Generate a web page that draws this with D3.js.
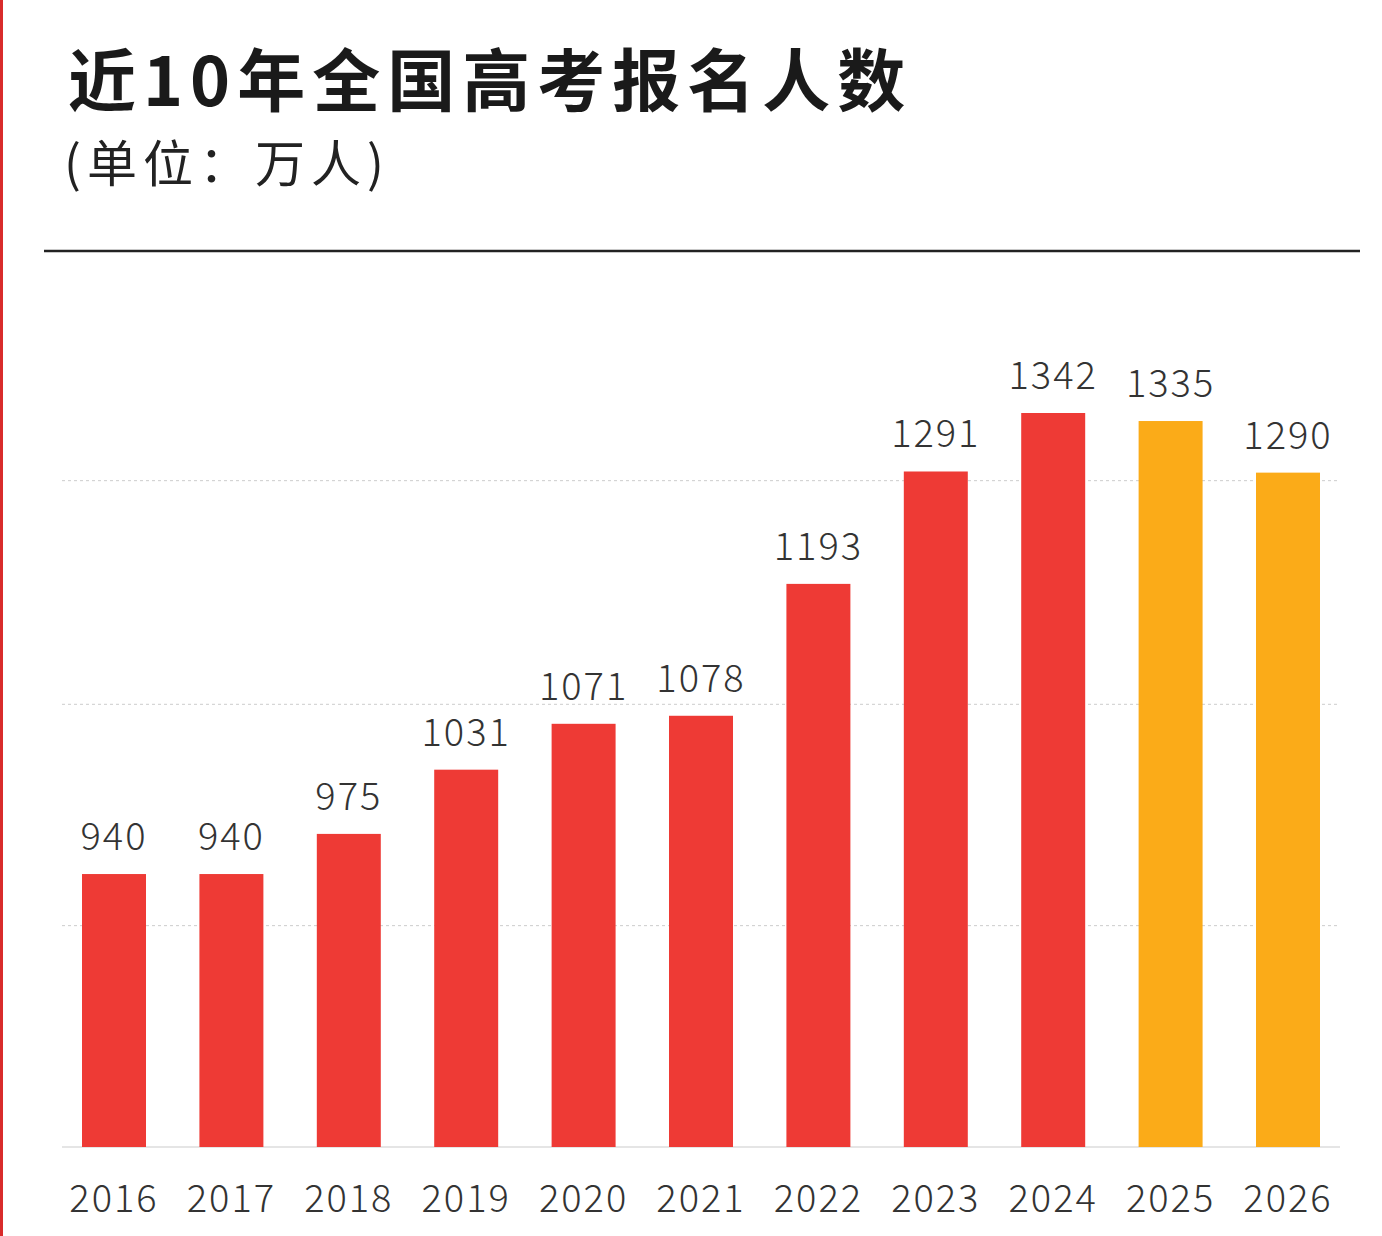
<!DOCTYPE html>
<html><head><meta charset="utf-8">
<script src="https://cdn.jsdelivr.net/npm/d3@7"></script>
<style>body{margin:0;background:#fff;} svg{display:block;}</style>
</head><body>
<svg id="chart" width="1382" height="1236"></svg>
<script>
// data
var years = ["2016","2017","2018","2019","2020","2021","2022","2023","2024","2025","2026"];
var values = [940, 940, 975, 1031, 1071, 1078, 1193, 1291, 1342, 1335, 1290];
var colors = ["#ee3a35","#ee3a35","#ee3a35","#ee3a35","#ee3a35","#ee3a35","#ee3a35","#ee3a35","#ee3a35","#fbab18","#fbab18"];
var gridValues = [895, 1088, 1283];

var svg = d3.select("#chart");
var font = "'Noto Sans CJK SC','Noto Sans',sans-serif";

// red edge on the left
svg.append("rect").attr("x",0).attr("y",0).attr("width",3).attr("height",1236).attr("fill","#d92b2b");

svg.append("text").attr("x",68).attr("y",106).text("近10年全国高考报名人数")
  .attr("font-family",font).attr("font-weight",700).attr("font-size",68)
  .attr("letter-spacing",7).attr("fill","#1a1a1a");
svg.append("text").attr("x",64).attr("y",182).text("(单位：万人)")
  .attr("font-family",font).attr("font-size",50).attr("letter-spacing",6).attr("fill","#222");
svg.append("line").attr("x1",44).attr("x2",1360).attr("y1",251).attr("y2",251)
  .attr("stroke","#222").attr("stroke-width",2.5);

var y = d3.scaleLinear().domain([702, 1342]).range([1147, 413]);
var x = d3.scalePoint().domain(years).range([114, 1288]);
var barW = x.step() * 0.545;

svg.selectAll(".grid").data(gridValues).enter().append("line")
  .attr("x1",62).attr("x2",1340)
  .attr("y1",function(d){return y(d);}).attr("y2",function(d){return y(d);})
  .attr("stroke","#ccc").attr("stroke-dasharray","3,3").attr("stroke-width",1);

svg.append("line").attr("x1",62).attr("x2",1340).attr("y1",y(702)).attr("y2",y(702))
  .attr("stroke","#ddd").attr("stroke-width",1.5);

svg.selectAll(".bar").data(values).enter().append("rect")
  .attr("class","bar")
  .attr("x",function(d,i){return x(years[i]) - barW/2;})
  .attr("y",function(d){return y(d);})
  .attr("width",barW)
  .attr("height",function(d){return y(702) - y(d);})
  .attr("fill",function(d,i){return colors[i];});

svg.selectAll(".val").data(values).enter().append("text")
  .attr("x",function(d,i){return x(years[i]);})
  .attr("y",function(d){return y(d) - 24;})
  .attr("text-anchor","middle").text(function(d){return d;})
  .attr("font-family",font).attr("font-weight",300).attr("font-size",38)
  .attr("letter-spacing",2).attr("fill","#333");

svg.selectAll(".yr").data(years).enter().append("text")
  .attr("x",function(d){return x(d);}).attr("y",1212)
  .attr("text-anchor","middle").text(function(d){return d;})
  .attr("font-family",font).attr("font-weight",300).attr("font-size",38)
  .attr("letter-spacing",2).attr("fill","#333");
</script>
</body></html>
